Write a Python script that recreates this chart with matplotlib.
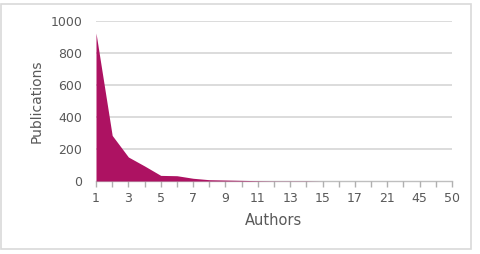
import matplotlib
matplotlib.use("Agg")
import matplotlib.pyplot as plt
from matplotlib.patches import Rectangle

# author counts (categorical axis) and number of publications
authors = ['1', '2', '3', '4', '5', '6', '7', '8', '9', '10', '11', '12',
           '13', '14', '15', '16', '17', '19', '21', '23', '45', '48', '50']
publications = [925, 285, 150, 94, 35, 33, 17, 8, 6, 4, 2, 1,
                1, 1, 0, 0, 0, 0, 0, 0, 0, 0, 0]
yticks = [0, 200, 400, 600, 800, 1000]

plt.rcParams['font.family'] = ['DejaVu Sans']
text_color = '#595959'

fig = plt.figure(figsize=(4.8, 2.54), dpi=100)
fig.patches.append(Rectangle((1 / 480, 5 / 254), 470 / 480, 245 / 254,
                             transform=fig.transFigure, fill=False,
                             edgecolor='#d9d9d9', linewidth=1.2))

ax = fig.add_axes([96 / 480, 73 / 254, 356 / 480, 160 / 254])
x = list(range(len(authors)))
ax.fill_between(x, publications, 0, color='#ad1262', linewidth=0, zorder=2)

ax.set_xlim(0, len(authors) - 1)
ax.set_ylim(0, 1000)
ax.set_yticks(yticks)
ax.set_yticklabels([str(v) for v in yticks])
ax.set_xticks(x)
ax.set_xticklabels([a if i % 2 == 0 else '' for i, a in enumerate(authors)])

for v in yticks[1:]:
    ax.axhline(v, color='#d9d9d9', linewidth=1.3, zorder=0)

for s in ['top', 'right', 'left']:
    ax.spines[s].set_visible(False)
ax.spines['bottom'].set_color('#bfbfbf')
ax.spines['bottom'].set_linewidth(1.0)
ax.spines['bottom'].set_zorder(1)
ax.tick_params(axis='y', length=0, pad=10, labelsize=9, colors=text_color)
ax.tick_params(axis='x', length=4, width=1, direction='out', color='#b0b0b0',
               pad=4, labelsize=9, labelcolor=text_color)

ax.set_ylabel('Publications', fontsize=10, color=text_color, labelpad=5)
ax.set_xlabel('Authors', fontsize=10.5, color=text_color, labelpad=6)

fig.savefig('out.png', dpi=100)
